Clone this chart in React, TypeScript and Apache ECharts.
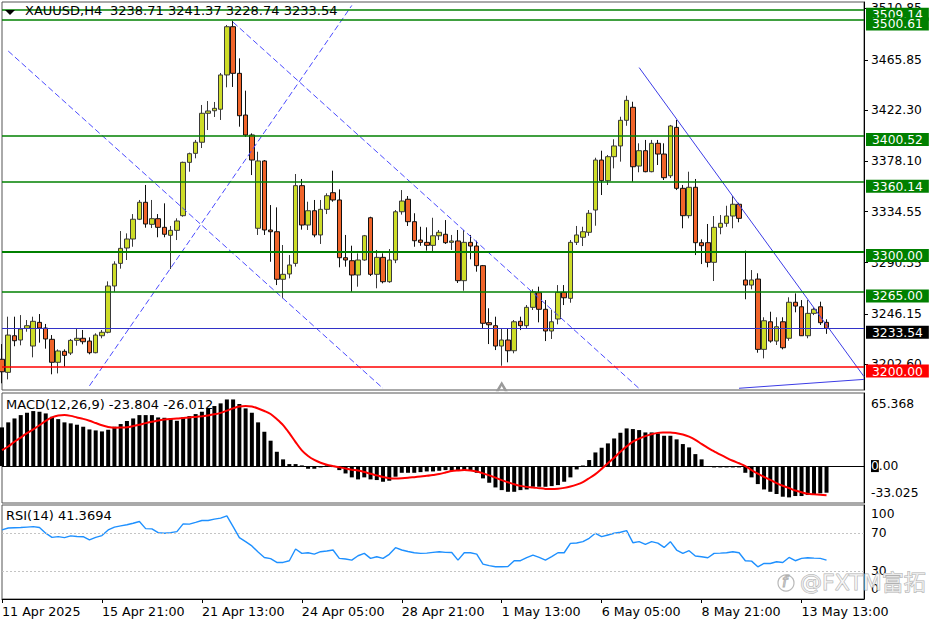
import React, { useEffect, useRef } from "react";
import * as echarts from "echarts";

// [open, high, low, close] per H4 bar
const ohlc: number[][] = [
  [3206.7, 3219.9, 3185.9, 3195.9], [3195.4, 3243.6, 3189.3, 3227.7], [3227.1, 3243.6, 3218.0, 3222.8], [3223.4, 3245.0, 3218.8, 3232.9],
  [3233.5, 3240.7, 3230.6, 3235.8], [3218.2, 3243.6, 3208.4, 3239.6], [3238.7, 3245.9, 3221.1, 3233.8], [3233.8, 3237.3, 3215.9, 3224.3],
  [3224.0, 3227.7, 3193.7, 3204.1], [3204.1, 3215.3, 3194.5, 3213.9], [3213.6, 3215.3, 3200.3, 3210.1], [3212.1, 3224.3, 3210.4, 3223.1],
  [3223.1, 3232.9, 3218.5, 3224.9], [3224.9, 3232.1, 3219.7, 3221.9], [3222.5, 3225.7, 3211.0, 3212.4], [3212.4, 3229.2, 3211.9, 3227.7],
  [3227.1, 3232.1, 3224.9, 3230.1], [3230.1, 3274.2, 3229.2, 3270.2], [3270.2, 3291.6, 3265.2, 3289.2], [3289.8, 3317.8, 3285.2, 3302.8],
  [3303.1, 3315.8, 3292.7, 3310.9], [3310.9, 3332.5, 3304.2, 3328.0], [3328.0, 3344.7, 3327.3, 3342.7], [3342.7, 3357.7, 3320.7, 3323.9],
  [3323.6, 3344.7, 3320.4, 3328.5], [3328.5, 3332.5, 3312.4, 3321.0], [3321.0, 3341.8, 3312.4, 3315.0], [3314.1, 3322.2, 3284.9, 3318.4],
  [3318.4, 3328.8, 3310.0, 3326.5], [3331.1, 3377.9, 3330.2, 3377.3], [3377.3, 3385.7, 3369.2, 3384.8], [3385.1, 3396.7, 3380.8, 3394.7],
  [3394.7, 3427.0, 3389.7, 3419.8], [3419.8, 3430.4, 3405.3, 3421.8], [3422.0, 3429.6, 3416.6, 3424.1], [3423.3, 3454.7, 3414.0, 3453.0],
  [3453.0, 3496.3, 3442.3, 3494.8], [3494.8, 3500.0, 3442.6, 3454.4], [3454.4, 3467.4, 3408.2, 3417.7], [3418.3, 3439.4, 3399.3, 3401.0],
  [3401.0, 3402.4, 3366.3, 3379.3], [3320.2, 3386.5, 3314.4, 3378.5], [3378.5, 3379.3, 3314.4, 3318.7], [3318.7, 3340.3, 3291.2, 3317.2],
  [3317.2, 3338.3, 3271.0, 3276.0], [3276.0, 3305.7, 3259.5, 3280.3], [3280.6, 3297.0, 3276.8, 3288.4], [3289.8, 3367.2, 3287.0, 3357.1],
  [3357.1, 3362.9, 3319.0, 3323.0], [3323.0, 3343.2, 3318.7, 3335.4], [3335.4, 3344.7, 3312.4, 3314.4], [3314.4, 3344.7, 3306.6, 3336.6],
  [3336.6, 3350.5, 3332.5, 3348.4], [3351.0, 3370.1, 3343.2, 3344.7], [3344.7, 3353.9, 3286.4, 3294.7], [3294.7, 3314.4, 3286.9, 3292.7],
  [3292.1, 3305.1, 3265.2, 3279.7], [3279.7, 3298.5, 3269.6, 3292.7], [3292.7, 3314.4, 3292.1, 3313.7], [3329.3, 3330.2, 3278.8, 3280.3],
  [3280.3, 3301.4, 3268.2, 3295.0], [3295.0, 3298.5, 3272.5, 3273.9], [3273.9, 3302.2, 3273.0, 3292.7], [3292.7, 3336.0, 3290.0, 3334.5],
  [3334.5, 3353.3, 3332.0, 3343.8], [3345.3, 3348.1, 3322.2, 3325.9], [3325.9, 3333.2, 3304.2, 3309.4], [3310.0, 3321.5, 3305.0, 3308.0],
  [3308.0, 3321.0, 3300.8, 3305.4], [3305.4, 3329.3, 3300.5, 3313.7], [3313.7, 3318.7, 3310.0, 3316.7], [3315.0, 3327.3, 3306.6, 3307.7],
  [3308.0, 3314.4, 3301.4, 3309.2], [3309.2, 3318.7, 3272.8, 3274.8], [3274.8, 3318.7, 3266.1, 3308.0], [3308.0, 3314.4, 3293.3, 3304.8],
  [3304.8, 3309.4, 3282.6, 3287.8], [3287.8, 3288.4, 3233.5, 3237.9], [3238.4, 3250.9, 3219.9, 3236.6], [3235.8, 3243.6, 3214.7, 3218.2],
  [3218.2, 3233.5, 3201.1, 3223.4], [3223.4, 3233.5, 3204.1, 3214.1], [3214.1, 3240.7, 3211.9, 3239.2], [3239.6, 3243.6, 3232.0, 3235.8],
  [3235.8, 3253.7, 3233.8, 3251.7], [3251.7, 3267.3, 3249.4, 3265.2], [3264.4, 3269.6, 3238.7, 3250.0], [3250.0, 3258.0, 3222.5, 3231.2],
  [3231.2, 3249.4, 3224.3, 3239.2], [3241.6, 3271.0, 3237.0, 3264.7], [3264.7, 3271.0, 3253.7, 3260.0], [3259.5, 3310.0, 3255.7, 3308.0],
  [3308.0, 3322.2, 3305.7, 3314.4], [3312.4, 3321.5, 3304.8, 3317.2], [3316.7, 3336.0, 3313.7, 3333.2], [3336.0, 3381.3, 3322.4, 3379.3],
  [3379.3, 3387.4, 3349.0, 3361.4], [3361.4, 3383.7, 3357.7, 3382.2], [3382.2, 3397.3, 3372.1, 3391.5], [3391.5, 3416.8, 3377.9, 3413.7],
  [3413.7, 3435.0, 3409.0, 3431.0], [3425.0, 3429.8, 3360.5, 3373.5], [3374.1, 3393.8, 3368.7, 3387.4], [3387.4, 3396.7, 3368.7, 3369.2],
  [3369.2, 3396.7, 3368.7, 3393.8], [3393.8, 3396.7, 3375.0, 3384.5], [3384.5, 3393.8, 3362.0, 3364.0], [3365.7, 3409.7, 3363.7, 3408.8],
  [3407.6, 3414.0, 3353.3, 3354.8], [3354.8, 3357.7, 3320.2, 3331.1], [3331.1, 3369.2, 3328.8, 3355.7], [3355.7, 3362.9, 3297.0, 3307.7],
  [3307.7, 3310.6, 3289.2, 3305.1], [3307.7, 3323.9, 3286.4, 3290.7], [3290.7, 3330.8, 3274.5, 3321.0], [3321.0, 3331.7, 3315.0, 3324.5],
  [3324.5, 3339.7, 3321.5, 3330.8], [3330.8, 3348.1, 3320.2, 3341.0], [3341.0, 3342.3, 3325.4, 3328.8], [3275.4, 3300.8, 3258.7, 3271.0],
  [3271.0, 3284.0, 3267.3, 3275.4], [3276.2, 3281.2, 3212.4, 3215.3], [3215.3, 3243.1, 3207.5, 3240.1], [3239.2, 3247.9, 3221.1, 3222.5],
  [3222.5, 3243.1, 3219.1, 3234.9], [3239.2, 3243.1, 3215.3, 3216.7], [3224.9, 3260.4, 3222.8, 3256.1], [3256.1, 3263.8, 3247.4, 3252.8],
  [3252.2, 3258.0, 3226.9, 3227.1], [3227.1, 3258.0, 3224.9, 3246.5], [3246.5, 3251.7, 3245.0, 3250.0], [3252.2, 3256.6, 3236.4, 3238.4],
  [3238.71, 3241.37, 3228.74, 3233.54],
];

const macdMain: number[] = [
  34.6, 39.1, 42.6, 45.6, 47.7, 49.2, 48.6, 47.1, 44.1, 42.0,
  39.1, 38.2, 37.0, 35.2, 32.8, 31.9, 31.0, 32.5, 35.2, 37.6,
  40.3, 42.6, 45.6, 45.6, 45.6, 43.5, 43.2, 42.6, 40.5, 43.5,
  44.7, 46.5, 48.6, 51.6, 53.7, 56.1, 59.6, 59.6, 55.5, 51.6,
  47.7, 39.1, 30.7, 22.7, 12.8, 6.0, 1.8, 1.8, 0.6, -2.4,
  -2.4, -1.2, 0.6, -0.9, -3.6, -6.6, -10.1, -11.9, -10.1, -11.9,
  -12.5, -14.0, -13.1, -9.5, -6.0, -6.0, -6.0, -5.4, -4.8, -4.8,
  -4.2, -3.6, -4.2, -3.6, -3.6, -4.2, -6.0, -11.0, -14.9, -19.1,
  -21.5, -23.0, -23.0, -21.5, -20.9, -18.5, -18.5, -18.5, -17.9, -17.0,
  -14.0, -10.1, -3.0, 0.5, 5.4, 12.2, 16.4, 20.3, 24.7, 29.8,
  33.7, 33.1, 32.2, 30.1, 30.1, 29.2, 27.1, 27.1, 23.9, 19.7,
  16.7, 10.7, 6.0, -0.3, -1.2, -1.2, -1.2, -1.2, -1.2, -6.0,
  -10.1, -16.1, -20.9, -23.0, -25.0, -27.4, -28.0, -26.8, -26.8, -25.9,
  -25.0, -24.4, -23.804,
];

const macdSignal: number[] = [
  14.3, 17.5, 21.8, 25.5, 29.5, 32.8, 36.5, 40.5, 43.5, 45.3,
  45.6, 44.9, 43.5, 42.2, 40.5, 38.5, 36.5, 35.0, 34.3, 34.4,
  34.7, 35.8, 37.0, 38.4, 39.6, 40.7, 41.7, 42.2, 42.5, 43.0,
  43.4, 44.0, 44.6, 45.3, 46.3, 47.6, 49.6, 51.6, 53.2, 53.8,
  53.2, 51.5, 49.3, 46.6, 42.0, 36.7, 29.5, 21.5, 14.0, 9.0,
  5.5, 3.0, 1.2, 0.0, -1.1, -2.1, -3.2, -4.0, -5.3, -6.9,
  -8.3, -9.8, -10.9, -11.1, -10.9, -10.5, -9.9, -9.3, -8.7, -7.9,
  -7.1, -5.8, -4.4, -3.9, -3.6, -4.0, -4.9, -6.5, -8.3, -10.3,
  -12.6, -14.5, -16.3, -17.7, -18.6, -19.1, -19.8, -20.4, -20.6, -20.3,
  -19.5, -18.3, -16.6, -14.3, -10.9, -7.2, -2.5, 2.5, 7.5, 12.8,
  17.6, 21.8, 24.6, 26.8, 28.5, 29.7, 30.0, 30.1, 29.4, 28.3,
  26.3, 23.5, 19.8, 16.2, 13.2, 10.2, 7.4, 4.8, 2.5, 0.0,
  -3.6, -6.8, -9.7, -12.4, -15.2, -17.6, -19.6, -21.9, -23.4, -24.8,
  -25.3, -25.7, -26.012,
];

const rsi: number[] = [
  73.5, 75.5, 75.8, 76.0, 76.5, 77.0, 76.0, 70.0, 65.6, 66.3,
  65.3, 67.1, 66.5, 66.3, 62.8, 65.6, 67.5, 73.5, 76.5, 77.8,
  79.0, 80.6, 82.4, 74.9, 74.6, 70.6, 69.9, 70.6, 71.7, 79.9,
  79.7, 81.5, 83.5, 83.5, 85.0, 86.0, 88.5, 77.0, 65.3, 61.0,
  56.5, 50.0, 44.2, 43.0, 38.9, 38.9, 40.7, 53.2, 48.5, 49.2,
  47.8, 50.3, 51.0, 52.1, 43.2, 42.5, 41.4, 46.0, 48.5, 43.2,
  45.0, 43.2, 47.5, 54.6, 52.1, 50.5, 49.2, 48.5, 48.8, 49.6,
  50.3, 49.6, 49.4, 41.4, 49.2, 49.2, 47.8, 37.1, 35.5, 34.3,
  34.3, 34.5, 40.7, 40.7, 44.0, 46.7, 44.2, 41.4, 45.0, 49.2,
  49.2, 59.2, 59.6, 61.0, 64.6, 69.9, 66.3, 68.1, 69.9, 71.0,
  72.8, 59.9, 61.0, 58.2, 61.0, 59.5, 54.9, 61.0, 52.1, 48.5,
  51.4, 45.7, 45.0, 43.9, 48.5, 48.8, 49.2, 50.3, 49.2, 40.7,
  40.3, 34.3, 37.8, 37.8, 39.6, 38.9, 44.2, 40.7, 43.2, 43.9,
  43.5, 43.2, 41.3694,
];

const timeTicks = ["11 Apr 2025", "15 Apr 21:00", "21 Apr 13:00", "24 Apr 05:00", "28 Apr 21:00", "1 May 13:00", "6 May 05:00", "8 May 21:00", "13 May 13:00"];
const barsPerTick = 16;
const totalSlots = 139; // bars + empty right shift

const priceTicks = [3510.85, 3465.85, 3422.30, 3378.10, 3334.55, 3290.35, 3246.15, 3202.60];
const priceMin = 3180.1;
const priceMax = 3516.2;
const greenLevels = [3509.14, 3500.61, 3400.52, 3360.14, 3300.0, 3265.0];
const lastPrice = 3233.54;
const redLevel = 3200.0;

// trend lines: [[barIndex, price], [barIndex, price]]
const dashedTrendLines = [
  [[1, 3473.7], [61, 3181.5]],
  [[37, 3498.7], [102, 3181.4]],
  [[0, 3228.2], [37, 3518.5]],
  [[14, 3183.7], [56, 3513.2]],
];
const solidTrendLines = [
  [[102, 3459.4], [138, 3191.7]],
  [[118, 3181.6], [138, 3189.3]],
];
const arrowMark = [80, 3183.3];

const macdTicks = [-33.025, 0, 65.368];
const rsiTicks = [0, 30, 70, 100];
const rsiLevels = [30, 70];

const FONT = "DejaVu Sans";
const GREEN = "#008000";

export default function App() {
  const ref = useRef<HTMLDivElement>(null);

  useEffect(() => {
    const chart = echarts.init(ref.current!, null, { renderer: "svg" });
    const cats = Array.from({ length: totalSlots }, (_, i) => String(i));
    const candleData = ohlc.map(([o, h, l, c]) => [o, c, l, h]);

    // price box sitting a few pixels below its line, as in MT4
    const boxLabel = (text: string, bg: string) => ({
      show: true,
      position: "end",
      distance: 2,
      formatter: "{s| }\n{a|" + text + "}",
      rich: {
        s: { lineHeight: 8, fontSize: 1 },
        a: {
          color: "#fff",
          backgroundColor: bg,
          padding: [1, 6, 0, 6],
          fontSize: 12.3,
          fontFamily: FONT,
          lineHeight: 14,
        },
      },
    });

    const levelLines: any[] = greenLevels.map((v) => ({
      yAxis: v,
      lineStyle: { color: GREEN, width: v === 3300 ? 2 : 1.5, type: "solid" },
      label: boxLabel(v.toFixed(2), GREEN),
    }));
    levelLines.push({
      yAxis: lastPrice,
      lineStyle: { color: "#3232C8", width: 1, type: "solid" },
      label: boxLabel(lastPrice.toFixed(2), "#000"),
    });
    levelLines.push({
      yAxis: redLevel,
      lineStyle: { color: "#FF0000", width: 1.5, type: "solid" },
      label: boxLabel(redLevel.toFixed(2), "#FF0000"),
    });

    const trendItems: any[] = [
      ...dashedTrendLines.map(([a, b]) => [
        { coord: a, lineStyle: { color: "#4b4bff", width: 1, type: [6, 3] }, label: { show: false } },
        { coord: b },
      ]),
      ...solidTrendLines.map(([a, b]) => [
        { coord: a, lineStyle: { color: "#3c3ce6", width: 1, type: "solid" }, label: { show: false } },
        { coord: b },
      ]),
    ];

    const axisFont = { fontFamily: FONT, color: "#000" };

    const hiddenX = (gridIndex: number) => ({
      type: "category",
      gridIndex,
      data: cats,
      boundaryGap: false,
      axisLine: { show: false },
      axisTick: { show: false },
      axisLabel: { show: false },
      splitLine: { show: false },
    });

    const tickInterval = (i: number) => i % barsPerTick === 0;

    const option: any = {
      animation: false,
      backgroundColor: "#fff",
      textStyle: { fontFamily: FONT },
      grid: [
        { left: 2, top: 2, width: 862, height: 388, show: true, borderColor: "#555", borderWidth: 1, backgroundColor: "#fff", outerBoundsMode: "none" },
        { left: 2, top: 393, width: 862, height: 110, show: true, borderColor: "#555", borderWidth: 1, backgroundColor: "#fff", outerBoundsMode: "none" },
        { left: 2, top: 505, width: 862, height: 94, show: true, borderColor: "#555", borderWidth: 1, backgroundColor: "#fff", outerBoundsMode: "none" },
      ],
      xAxis: [
        hiddenX(0),
        hiddenX(1),
        {
          type: "category",
          gridIndex: 2,
          data: cats,
          boundaryGap: false,
          axisLine: { show: true, lineStyle: { color: "#000" } },
          axisTick: { show: true, interval: tickInterval, length: 4, lineStyle: { color: "#000" } },
          axisLabel: {
            show: true,
            interval: tickInterval,
            formatter: (_v: string, idx: number) => timeTicks[idx / barsPerTick] ?? "",
            align: "left",
            margin: 6,
            fontSize: 12.7,
            ...axisFont,
          },
          splitLine: { show: false },
        },
      ],
      yAxis: [
        {
          type: "value",
          gridIndex: 0,
          position: "right",
          min: priceMin,
          max: priceMax,
          axisLine: { show: true, lineStyle: { color: "#000" } },
          axisTick: { show: true, customValues: priceTicks, length: 4, lineStyle: { color: "#000" } },
          axisLabel: { show: true, customValues: priceTicks, formatter: (v: number) => v.toFixed(2), margin: 7, fontSize: 12.3, ...axisFont },
          splitLine: { show: false },
        },
        {
          type: "value",
          gridIndex: 1,
          position: "right",
          min: -33.025,
          max: 65.368,
          axisLine: { show: true, lineStyle: { color: "#000" } },
          axisTick: { show: false },
          axisLabel: {
            show: true,
            customValues: macdTicks,
            margin: 7,
            fontSize: 12.3,
            ...axisFont,
            formatter: (v: number) => (v === 0 ? "{z|0}.00" : v > 0 ? "{t|" + v.toFixed(3) + "}" : "{b|" + v.toFixed(3) + "}"),
            rich: {
              z: { backgroundColor: "#000", color: "#fff", fontSize: 12.3, fontFamily: FONT },
              t: { padding: [22, 0, 0, 0], fontSize: 12.3, fontFamily: FONT, color: "#000" },
              b: { padding: [0, 0, 20, 0], fontSize: 12.3, fontFamily: FONT, color: "#000" },
            },
          },
          splitLine: { show: false },
        },
        {
          type: "value",
          gridIndex: 2,
          position: "right",
          min: 0,
          max: 100,
          axisLine: { show: true, lineStyle: { color: "#000" } },
          axisTick: { show: false },
          axisLabel: {
            show: true,
            customValues: rsiTicks,
            margin: 7,
            fontSize: 12.3,
            ...axisFont,
            formatter: (v: number) => (v === 100 ? "{t|100}" : v === 0 ? "{b|0}" : String(v)),
            rich: {
              t: { padding: [18, 0, 0, 0], fontSize: 12.3, fontFamily: FONT, color: "#000" },
              b: { padding: [0, 0, 20, 0], fontSize: 12.3, fontFamily: FONT, color: "#000" },
            },
          },
          splitLine: { show: false },
        },
      ],
      series: [
        {
          type: "candlestick",
          xAxisIndex: 0,
          yAxisIndex: 0,
          data: candleData,
          barWidth: 5,
          itemStyle: {
            color: "#CDDC28",
            color0: "#F0642A",
            borderColor: "#3a3a3a",
            borderColor0: "#111",
            borderWidth: 1,
          },
          markLine: {
            silent: true,
            symbol: ["none", "none"],
            label: { show: false },
            emphasis: { disabled: true },
            data: [...trendItems, ...levelLines],
          },
          markPoint: {
            silent: true,
            data: [
              {
                coord: arrowMark,
                symbol: "path://M0,10L5,0L10,10L7.4,10L5,4.6L2.6,10Z",
                symbolSize: [12, 10],
                itemStyle: { color: "#9a9a9a" },
                label: { show: false },
              },
            ],
          },
        },
        {
          type: "bar",
          xAxisIndex: 1,
          yAxisIndex: 1,
          data: macdMain,
          barWidth: 4,
          itemStyle: { color: "#000" },
          markLine: {
            silent: true,
            symbol: ["none", "none"],
            label: { show: false },
            lineStyle: { color: "#000", width: 1, type: "solid" },
            data: [{ yAxis: 0 }],
          },
        },
        {
          type: "line",
          xAxisIndex: 1,
          yAxisIndex: 1,
          data: macdSignal,
          showSymbol: false,
          smooth: 0.3,
          lineStyle: { color: "#FF0000", width: 2 },
          z: 5,
        },
        {
          type: "line",
          xAxisIndex: 2,
          yAxisIndex: 2,
          data: rsi,
          showSymbol: false,
          lineStyle: { color: "#1E90FF", width: 1.4 },
          markLine: {
            silent: true,
            symbol: ["none", "none"],
            label: { show: false },
            lineStyle: { color: "#c4c4c4", width: 1, type: [2, 2] },
            data: rsiLevels.map((v) => ({ yAxis: v })),
          },
        },
      ],
      graphic: [
        { type: "polygon", silent: true, z: 100, shape: { points: [[5, 10], [15, 10], [10, 15]] }, style: { fill: "#000" } },
        { type: "text", silent: true, z: 100, x: 25, y: 4, style: { text: "XAUUSD,H4", font: `13px "${FONT}"`, fill: "#000", verticalAlign: "top" } },
        { type: "text", silent: true, z: 100, x: 110, y: 4, style: { text: "3238.71 3241.37 3228.74 3233.54", font: `13px "${FONT}"`, fill: "#000", verticalAlign: "top" } },
        { type: "text", silent: true, z: 100, x: 6, y: 398, style: { text: "MACD(12,26,9) -23.804 -26.012", font: `13px "${FONT}"`, fill: "#000", verticalAlign: "top" } },
        { type: "text", silent: true, z: 100, x: 6, y: 509, style: { text: "RSI(14) 41.3694", font: `13px "${FONT}"`, fill: "#000", verticalAlign: "top" } },
        { type: "circle", silent: true, z: 100, shape: { cx: 786, cy: 583, r: 8 }, style: { fill: "none", stroke: "#b8b8b8", lineWidth: 1.2 } },
        { type: "text", silent: true, z: 100, x: 782, y: 574, style: { text: "f", font: `italic 15px "${FONT}"`, fill: "none", stroke: "#b0b0b0", lineWidth: 1, verticalAlign: "top" } },
        { type: "text", silent: true, z: 100, x: 800, y: 571, style: { text: "@FXTM富拓", font: `22px "${FONT}", "Noto Sans CJK SC"`, fill: "rgba(255,255,255,0.6)", stroke: "#b0b0b0", lineWidth: 1, verticalAlign: "top" } },
      ],
    };

    chart.setOption(option);
    return () => chart.dispose();
  }, []);

  return <div ref={ref} style={{ position: "absolute", left: 0, top: 0, width: 936, height: 624, background: "#fff" }} />;
}
